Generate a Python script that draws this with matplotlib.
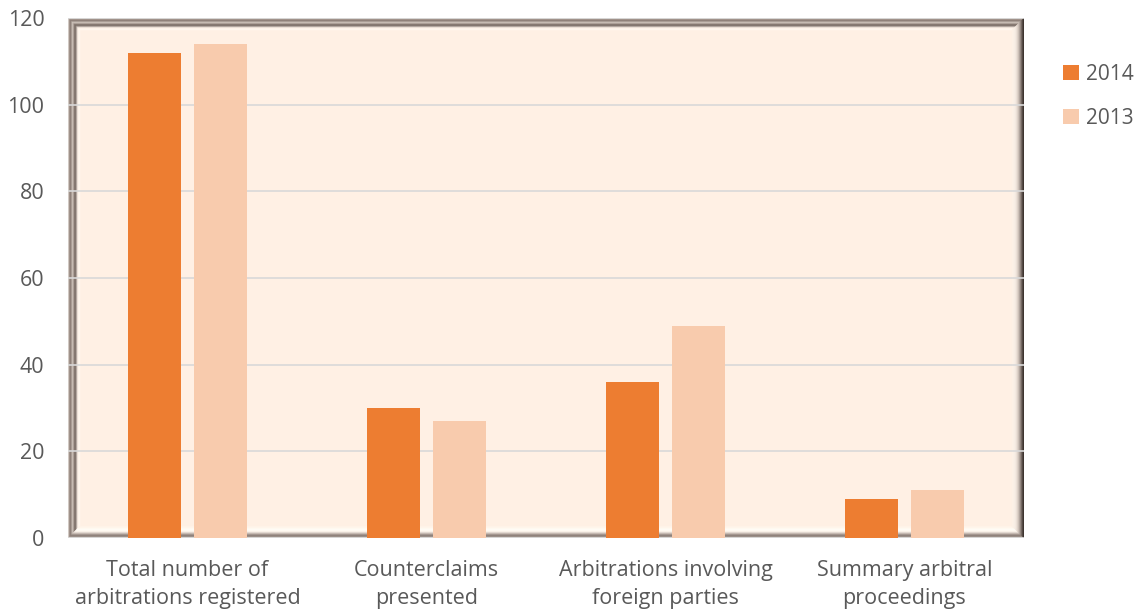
import numpy as np
import matplotlib.pyplot as plt
from matplotlib.patches import Polygon
from matplotlib.transforms import Affine2D

plt.rcParams['font.family'] = ['Open Sans', 'DejaVu Sans']

# Data
categories = ['Total number of\narbitrations registered', 'Counterclaims\npresented',
              'Arbitrations involving\nforeign parties', 'Summary arbitral\nproceedings']
series_names = ['2014', '2013']
values_2014 = [112, 30, 36, 9]
values_2013 = [114, 27, 49, 11]

c2014 = '#ed7d31'
c2013 = '#f8cbad'
txt = '#595959'

fig = plt.figure(figsize=(11.42, 6.13), dpi=100)
ax = fig.add_axes([68/1142, 75/613, 956/1142, 520/613])
ax.set_facecolor('#fff0e4')

x = np.arange(len(categories))
w = 0.222
ax.bar(x - 0.14, values_2014, w, color=c2014, label=series_names[0], zorder=2)
ax.bar(x + 0.14, values_2013, w, color=c2013, label=series_names[1], zorder=2)

ax.set_xlim(-0.5, len(categories) - 0.5)
ax.set_ylim(0, 120)
ax.set_yticks(range(0, 121, 20))
ax.set_xticks(x)
ax.set_xticklabels(categories, linespacing=1.45)
ax.tick_params(axis='y', length=0, pad=17, labelsize=15.5, labelcolor=txt)
ax.tick_params(axis='x', length=0, pad=16, labelsize=15.5, labelcolor=txt)
ax.set_axisbelow(True)
ax.yaxis.grid(True, color='#d9d9d9', linewidth=1.2)
for s in ax.spines.values():
    s.set_visible(False)

# beveled frame drawn in axes pixel units, one stripe per pixel (outer -> inner)
W, H = 956.0, 520.0
tr = Affine2D().scale(1 / W, 1 / H) + ax.transAxes

top_left = ['#ddd6d1', '#a69890', '#8b7d76', '#a1958d', '#cbc0b8', '#b6aaa2',
            '#8a7c75', '#7b6e67', '#a69a93', '#e6dbd3', '#fff4e9', '#fff7ee']
bottom = ['#d4d0cd', '#a0948d', '#8c7f78', '#9d9089', '#bfb3ab', '#ddd3cb',
          '#f8efe6', '#fffaf2', '#fffcf6', '#fffaf2', '#fff6ec', '#fff3e8']
right = ['#3a302c', '#4e443f', '#6e625c', '#8f837c', '#ada19a',
         '#c8bcb4', '#dcd0c7', '#e9ded5', '#f3e8df', '#f8eee5', '#fbf0e7', '#fdf1e6']

for i in range(len(top_left)):
    d0, d1 = i, i + 1
    sides = [
        ([(d0, H - d0), (W - d0, H - d0), (W - d1, H - d1), (d1, H - d1)], top_left[i]),
        ([(d0, d0), (d0, H - d0), (d1, H - d1), (d1, d1)], top_left[i]),
        ([(d0, d0), (W - d0, d0), (W - d1, d1), (d1, d1)], bottom[i]),
        ([(W - d0, d0), (W - d0, H - d0), (W - d1, H - d1), (W - d1, d1)], right[i]),
    ]
    for poly, col in sides:
        ax.add_patch(Polygon(poly, closed=True, facecolor=col, edgecolor=col,
                             linewidth=0.3, transform=tr, zorder=0.2))

leg = fig.legend(loc='upper left', bbox_to_anchor=(1063/1142, 1 - 64/613),
                 frameon=False, fontsize=15, labelspacing=1.1, borderaxespad=0,
                 borderpad=0, handlelength=0.75, handleheight=0.75,
                 handletextpad=0.35)
for t in leg.get_texts():
    t.set_color(txt)

fig.savefig('out.png', dpi=100)
